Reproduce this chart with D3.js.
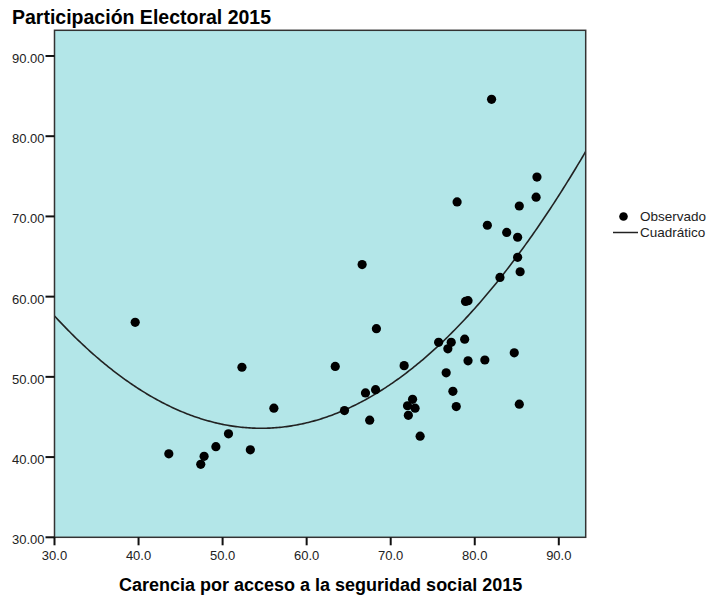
<!DOCTYPE html>
<html><head><meta charset="utf-8">
<script src="https://cdn.jsdelivr.net/npm/d3@7"></script>
<style>body{margin:0;background:#fff;} svg{display:block;font-family:"Liberation Sans",Arial,sans-serif;}</style>
</head><body>
<svg id="chart" width="708" height="597"></svg>
<script>
const carencia = [39.6,43.6,47.8,47.4,49.2,50.7,52.3,53.3,56.1,63.4,64.5,66.6,67.0,67.5,68.2,68.3,71.6,72.0,72.1,72.6,72.9,73.5,75.7,76.6,76.8,77.2,77.4,77.8,77.9,78.8,78.9,79.2,79.2,81.2,81.5,82.0,83.0,83.8,84.7,85.1,85.1,85.3,85.3,85.4,87.3,87.4];
const participacion = [56.8,40.4,40.1,39.1,41.3,42.9,51.2,40.9,46.1,51.3,45.8,64.0,48.0,44.6,48.4,56.0,51.4,46.4,45.2,47.2,46.1,42.6,54.3,50.5,53.5,54.3,48.2,46.3,71.8,54.7,59.4,59.5,52.0,52.1,68.9,84.6,62.4,68.0,53.0,67.4,64.9,71.3,46.6,63.1,72.4,74.9];
const xTicks = [30,40,50,60,70,80,90];
const yTicks = [30,40,50,60,70,80,90];
const title = "Participación Electoral 2015";
const xTitle = "Carencia por acceso a la seguridad social 2015";
const legendLabels = ["Observado","Cuadrático"];

const svg = d3.select("#chart");
const L=54.5, R=585.7, T=30.3, B=537.3;
const x = d3.scaleLinear().domain([30,93.2]).range([L,R]);
const y = d3.scaleLinear().domain([30,93.2]).range([B,T]);

svg.append("rect").attr("x",L).attr("y",T).attr("width",R-L).attr("height",B-T)
  .attr("fill","#b3e6e8");

// quadratic least-squares fit
function quadFit(xs, ys){
  const n=xs.length; let S=[0,0,0,0,0], Ty=[0,0,0];
  for(let i=0;i<n;i++){const xi=xs[i]; let p=1; for(let k=0;k<5;k++){S[k]+=p; if(k<3) Ty[k]+=p*ys[i]; p*=xi;}}
  const M=[[S[0],S[1],S[2],Ty[0]],[S[1],S[2],S[3],Ty[1]],[S[2],S[3],S[4],Ty[2]]];
  for(let i=0;i<3;i++){for(let j=i+1;j<3;j++){const f=M[j][i]/M[i][i]; for(let k=i;k<4;k++) M[j][k]-=f*M[i][k];}}
  const c=[0,0,0];
  for(let i=2;i>=0;i--){let s=M[i][3]; for(let k=i+1;k<3;k++) s-=M[i][k]*c[k]; c[i]=s/M[i][i];}
  return c;
}
const c = quadFit(carencia, participacion);
const xs = d3.range(30, 93.2001, 0.2);
svg.append("clipPath").attr("id","clip").append("rect").attr("x",L).attr("y",T).attr("width",R-L).attr("height",B-T);
svg.append("path").datum(xs).attr("clip-path","url(#clip)")
  .attr("d", d3.line().x(d=>x(d)).y(d=>y(c[0]+c[1]*d+c[2]*d*d)))
  .attr("fill","none").attr("stroke","#222").attr("stroke-width",1.6);

svg.append("g").selectAll("circle").data(carencia).join("circle")
  .attr("cx",(d)=>x(d)).attr("cy",(d,i)=>y(participacion[i])).attr("r",4.6).attr("fill","#000");

svg.append("rect").attr("x",L).attr("y",T).attr("width",R-L).attr("height",B-T)
  .attr("fill","none").attr("stroke","#333").attr("stroke-width",1.5);

// axes
const gx = svg.append("g");
xTicks.forEach(t=>{
  gx.append("line").attr("x1",x(t)).attr("x2",x(t)).attr("y1",B).attr("y2",B+8).attr("stroke","#111").attr("stroke-width",2);
  gx.append("text").attr("x",x(t)).attr("y",B+23).attr("text-anchor","middle").attr("font-size",13).attr("fill","#222").text(t.toFixed(1));
});
const gy = svg.append("g");
yTicks.forEach(t=>{
  gy.append("line").attr("x1",L-9).attr("x2",L).attr("y1",y(t)).attr("y2",y(t)).attr("stroke","#111").attr("stroke-width",2);
  gy.append("text").attr("x",L-10).attr("y",y(t)+7).attr("text-anchor","end").attr("font-size",13).attr("fill","#222").text(t.toFixed(2));
});

svg.append("text").attr("x",12).attr("y",24).attr("font-size",19.5).attr("font-weight","bold").attr("fill","#000").text(title);
svg.append("text").attr("x",(L+R)/2 + 0.5).attr("y",591).attr("text-anchor","middle").attr("font-size",18).attr("font-weight","bold").attr("fill","#000").text(xTitle);

// legend
const lg = svg.append("g");
lg.append("circle").attr("cx",623.5).attr("cy",216.5).attr("r",4.3).attr("fill","#000");
lg.append("text").attr("x",640).attr("y",221).attr("font-size",13.5).attr("fill","#222").text(legendLabels[0]);
lg.append("line").attr("x1",613).attr("x2",638).attr("y1",232.5).attr("y2",232.5).attr("stroke","#222").attr("stroke-width",1.5);
lg.append("text").attr("x",640).attr("y",237).attr("font-size",13.5).attr("fill","#222").text(legendLabels[1]);
</script>
</body></html>
